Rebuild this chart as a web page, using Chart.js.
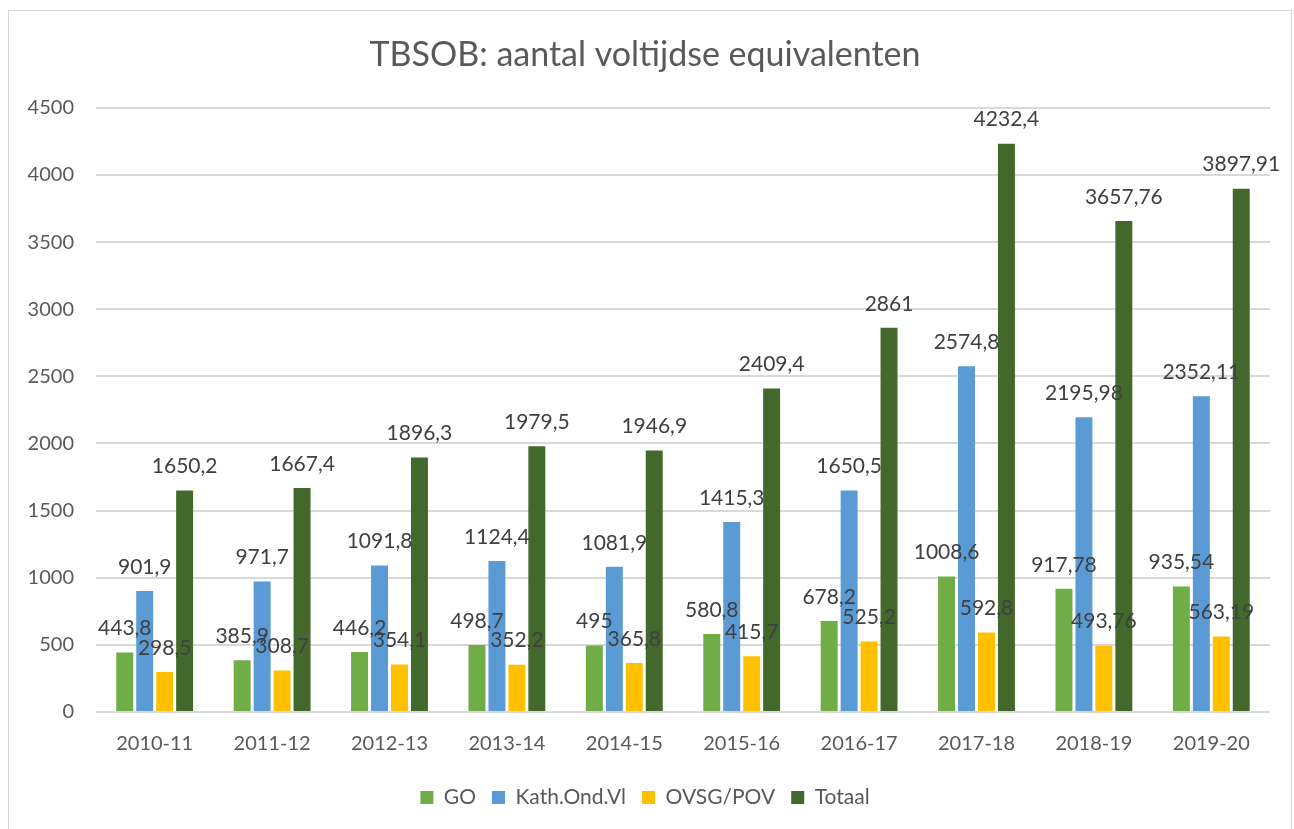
<!DOCTYPE html>
<html>
<head>
<meta charset="utf-8">
<script src="https://cdn.jsdelivr.net/npm/chart.js@4.4.0/dist/chart.umd.min.js"></script>
<style>
  html, body { margin: 0; padding: 0; background: #fff; }
  #wrap { width: 1294px; height: 829px; position: relative; }
</style>
</head>
<body>
<div id="wrap"><canvas id="myChart" width="1294" height="829"></canvas></div>
<script>
const jaren = ['2010-11', '2011-12', '2012-13', '2013-14', '2014-15', '2015-16', '2016-17', '2017-18', '2018-19', '2019-20'];
const go = [443.8, 385.9, 446.2, 498.7, 495, 580.8, 678.2, 1008.6, 917.78, 935.54];
const kath = [901.9, 971.7, 1091.8, 1124.4, 1081.9, 1415.3, 1650.5, 2574.8, 2195.98, 2352.11];
const ovsg = [298.5, 308.7, 354.1, 352.2, 365.8, 415.7, 525.2, 592.8, 493.76, 563.19];
const totaal = [1650.2, 1667.4, 1896.3, 1979.5, 1946.9, 2409.4, 2861, 4232.4, 3657.76, 3897.91];

const FONT = 'Lato, "Open Sans", sans-serif';

// labels boven de staven, met komma als decimaalteken
const barLabels = {
    id: 'barLabels',
    afterDatasetsDraw(chart) {
        const ctx = chart.ctx;
        ctx.save();
        ctx.font = '21px ' + FONT;
        ctx.fillStyle = '#404040';
        ctx.textAlign = 'center';
        ctx.textBaseline = 'middle';
        chart.data.datasets.forEach((ds, i) => {
            const meta = chart.getDatasetMeta(i);
            meta.data.forEach((bar, j) => {
                const txt = String(ds.data[j]).replace('.', ',');
                ctx.fillText(txt, bar.x, bar.y - 24);
            });
        });
        ctx.restore();
    }
};

// dunne grijze rand rond de grafiek
const chartBorder = {
    id: 'chartBorder',
    beforeDraw(chart) {
        const ctx = chart.ctx;
        ctx.save();
        ctx.strokeStyle = '#d9d9d9';
        ctx.lineWidth = 1;
        ctx.strokeRect(8.5, 10.5, 1283, 830);
        ctx.restore();
    }
};

const ctx = document.getElementById('myChart').getContext('2d');
new Chart(ctx, {
    type: 'bar',
    data: {
        labels: jaren,
        datasets: [
            { label: 'GO', data: go, backgroundColor: '#70AD47' },
            { label: 'Kath.Ond.Vl', data: kath, backgroundColor: '#5B9BD5' },
            { label: 'OVSG/POV', data: ovsg, backgroundColor: '#FFC000' },
            { label: 'Totaal', data: totaal, backgroundColor: '#43682B' }
        ]
    },
    options: {
        responsive: false,
        animation: false,
        categoryPercentage: 0.68,
        barPercentage: 0.85,
        layout: { padding: { left: 20, right: 24, top: 20, bottom: 11 } },
        plugins: {
            title: {
                display: true,
                text: 'TBSOB: aantal voltijdse equivalenten',
                color: '#595959',
                font: { family: FONT, size: 34, weight: 'normal' },
                padding: { top: 15, bottom: 32 }
            },
            legend: {
                position: 'bottom',
                labels: {
                    color: '#595959',
                    font: { family: FONT, size: 21 },
                    boxWidth: 13,
                    boxHeight: 13,
                    padding: 16
                }
            },
            tooltip: { enabled: false }
        },
        scales: {
            x: {
                grid: { display: false },
                border: { display: false },
                ticks: {
                    color: '#595959',
                    font: { family: FONT, size: 20 },
                    padding: 12,
                    maxRotation: 0
                },
                afterFit(scale) { scale.height = 59; }
            },
            y: {
                min: 0,
                max: 4500,
                border: { display: false },
                grid: { color: '#d9d9d9', lineWidth: 2, drawTicks: false },
                ticks: {
                    stepSize: 500,
                    color: '#595959',
                    font: { family: FONT, size: 20 },
                    padding: 22,
                    callback: (v) => String(v)
                },
                afterFit(scale) { scale.width = 76; }
            }
        }
    },
    plugins: [chartBorder, barLabels]
});
</script>
</body>
</html>
